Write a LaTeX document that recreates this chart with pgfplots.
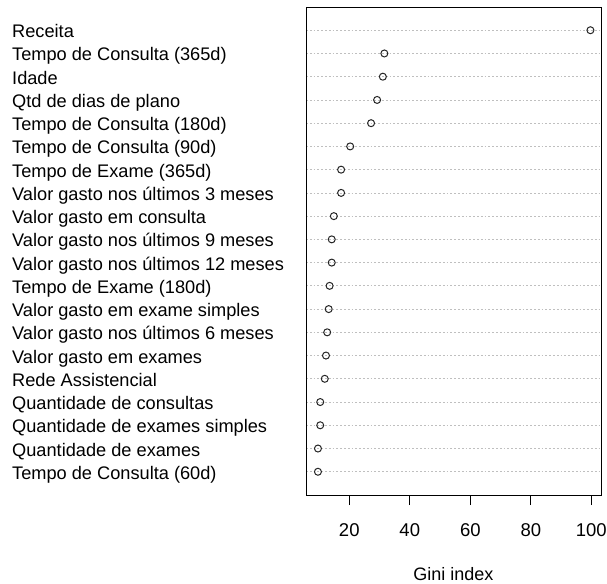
\documentclass[border=0pt]{standalone}
\usepackage{pgfplots}
\pgfplotsset{compat=1.18}
\usepackage{fontspec}
\setmainfont{Liberation Sans}
\begin{document}
\begin{tikzpicture}[x=1bp,y=1bp]
\useasboundingbox (0,0) rectangle (607,584);
\begin{axis}[
  at={(306bp,89bp)}, anchor=south west,
  scale only axis, width=295bp, height=488bp,
  xmin=5.7, xmax=103.2, ymin=0, ymax=21,
  axis line style={line width=0.9bp, black},
  xtick={20,40,60,80,100},
  xtick pos=bottom, xtick align=outside,
  major tick length=10bp,
  xtick style={line width=0.9bp, black},
  xticklabel style={font=\fontsize{18.5bp}{21bp}\selectfont, anchor=base, inner sep=0pt, yshift=-31bp},
  /pgf/number format/assume math mode=true,
  ytick={1,...,20},
  ytick align=inside,
  ytick style={draw=none},
  yticklabels={Tempo de Consulta (60d),Quantidade de exames,Quantidade de exames simples,Quantidade de consultas,Rede Assistencial,Valor gasto em exames,Valor gasto nos últimos 6 meses,Valor gasto em exame simples,Tempo de Exame (180d),Valor gasto nos últimos 12 meses,Valor gasto nos últimos 9 meses,Valor gasto em consulta,Valor gasto nos últimos 3 meses,Tempo de Exame (365d),Tempo de Consulta (90d),Tempo de Consulta (180d),Qtd de dias de plano,Idade,Tempo de Consulta (365d),Receita},
  yticklabel style={font=\fontsize{18.2bp}{21bp}\selectfont, anchor=base west, inner sep=0pt, xshift=-294bp, yshift=-7.5bp},
  ymajorgrids,
  major grid style={gray!50, line width=0.7bp, dash pattern=on 1.8bp off 2bp},
  xlabel={Gini index},
  xlabel style={font=\fontsize{18bp}{21bp}\selectfont, at={(axis description cs:0.5,0)}, anchor=base, inner sep=0pt, yshift=-85bp},
]
\addplot[only marks, mark=o, mark size=3.5bp, mark options={line width=1bp, draw=black!85}] coordinates {
(9.65,1) (9.65,2) (10.4,3) (10.4,4) (11.9,5) (12.3,6) (12.7,7) (13.2,8) (13.5,9) (14.2,10)
(14.2,11) (14.9,12) (17.3,13) (17.3,14) (20.3,15) (27.2,16) (29.2,17) (31.1,18) (31.6,19) (99.7,20)
};
\end{axis}
\end{tikzpicture}
\end{document}
